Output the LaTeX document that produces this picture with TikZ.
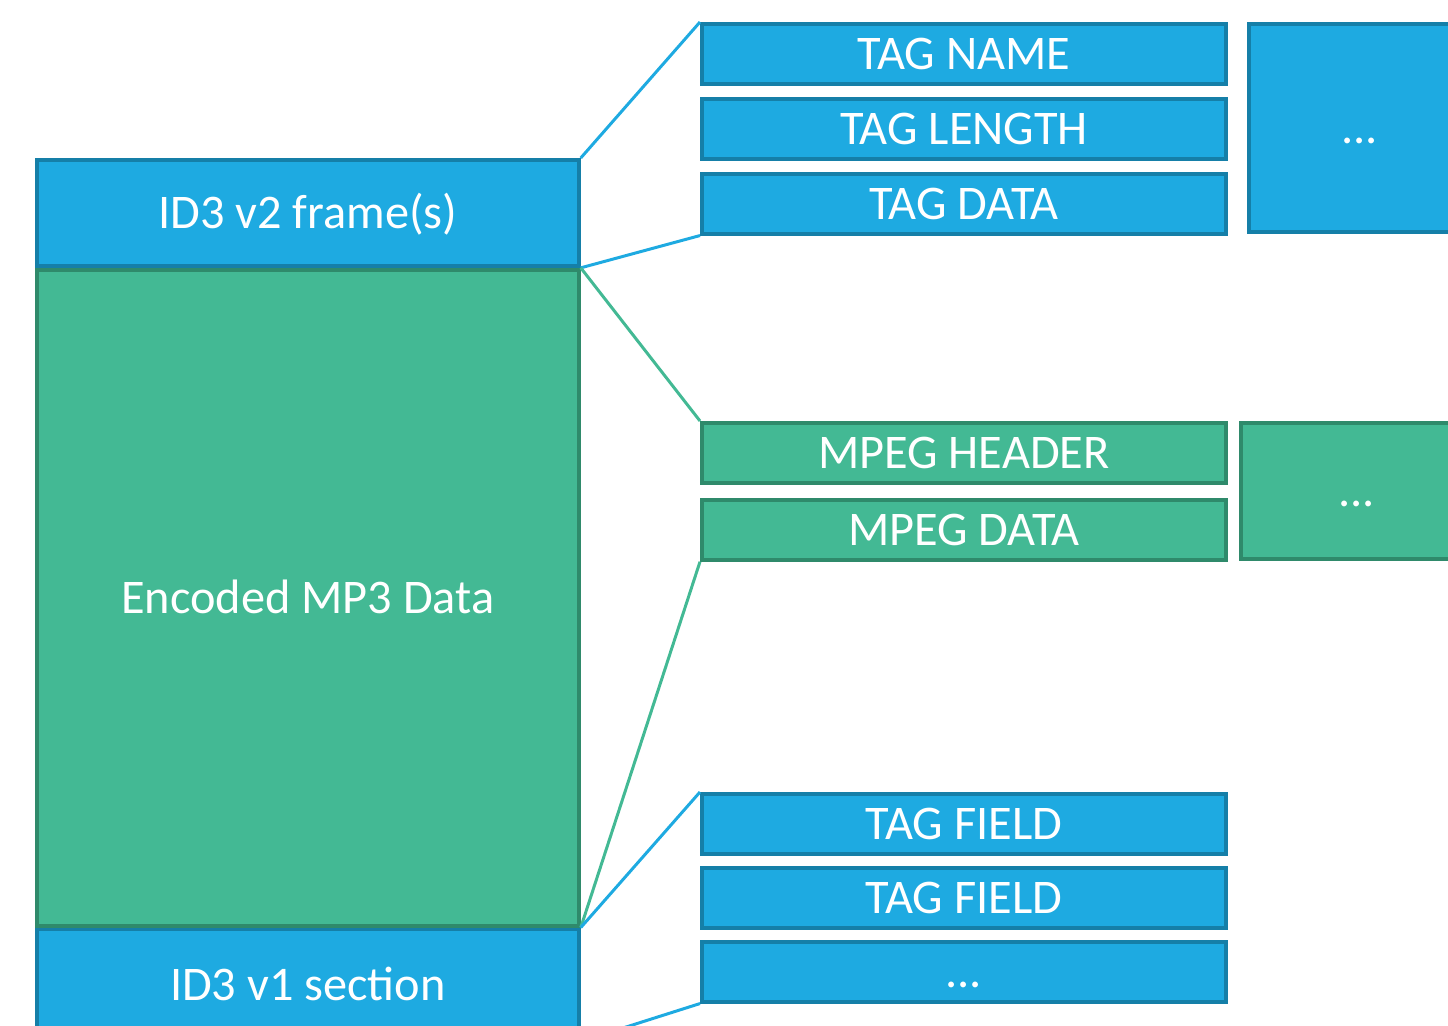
\documentclass[tikz,border=0pt]{standalone}
\usepackage{fontspec}
\setmainfont{Carlito}
\usetikzlibrary{positioning}
\definecolor{idblue}{HTML}{1EAAE1}
\definecolor{idblueline}{HTML}{157FA8}
\definecolor{mpgreen}{HTML}{43B994}
\definecolor{mpgreenline}{HTML}{2F8A6B}
\tikzset{
    blockbase/.style={draw, line width=2.2pt, text=white, font=\fontsize{27.5}{33}\selectfont, inner sep=0pt,
        text height=17.7pt, text depth=0pt}, % common look of every block
    tagbox/.style={blockbase, fill=idblue, draw=idblueline},
    mpegbox/.style={blockbase, fill=mpgreen, draw=mpgreenline},
    fieldbox/.style={minimum width=10.48cm, minimum height=1.2cm}, % the narrow boxes on the right
    filebox/.style={minimum width=10.84cm}, % the column on the left
    zoomline/.style={line width=1.7pt}
}

\begin{document}
\begin{tikzpicture}[x=0.02cm, y=-0.02cm, node distance=0.22cm]
    \useasboundingbox (0,0) rectangle (1448,1026);

    % the file itself
    \node[tagbox, filebox, minimum height=2.12cm, anchor=north west] (v2) at (35,158) {ID3 v2 frame(s)};
    \node[mpegbox, filebox, minimum height=13.12cm, below=0pt of v2] (mp3) {Encoded MP3 Data};
    \node[tagbox, filebox, minimum height=2.2cm, below=0pt of mp3] (v1) {ID3 v1 section};

    % ID3 v2 frame
    \node[tagbox, fieldbox, anchor=north west] (tname) at (700,22) {TAG NAME};
    \node[tagbox, fieldbox, below=of tname] (tlen) {TAG LENGTH};
    \node[tagbox, fieldbox, below=of tlen] (tdata) {TAG DATA};
    \node[tagbox, minimum width=4.44cm, minimum height=4.16cm, anchor=north west] (tmore) at (1247,22) {...};

    % MPEG frame
    \node[mpegbox, fieldbox, anchor=north west] (mhead) at (700,421) {MPEG HEADER};
    \node[mpegbox, fieldbox, below=0.26cm of mhead] (mdata) {MPEG DATA};
    \node[mpegbox, minimum width=4.64cm, minimum height=2.72cm, anchor=north west] (mmore) at (1239,421) {...};

    % ID3 v1 fields
    \node[tagbox, fieldbox, anchor=north west] (tfield1) at (700,792) {TAG FIELD};
    \node[tagbox, fieldbox, below=0.2cm of tfield1] (tfield2) {TAG FIELD};
    \node[tagbox, fieldbox, below=0.2cm of tfield2] (tfield3) {...};

    \draw[zoomline, idblue] (v2.north east) -- (tname.north west);
    \draw[zoomline, idblue] (v2.south east) -- (tdata.south west);
    \draw[zoomline, mpgreen] (mp3.north east) -- (mhead.north west);
    \draw[zoomline, mpgreen] (mp3.south east) -- (mdata.south west);
    \draw[zoomline, idblue] (v1.north east) -- (tfield1.north west);
    \draw[zoomline, idblue] (v1.south east) -- (tfield3.south west);
\end{tikzpicture}
\end{document}
